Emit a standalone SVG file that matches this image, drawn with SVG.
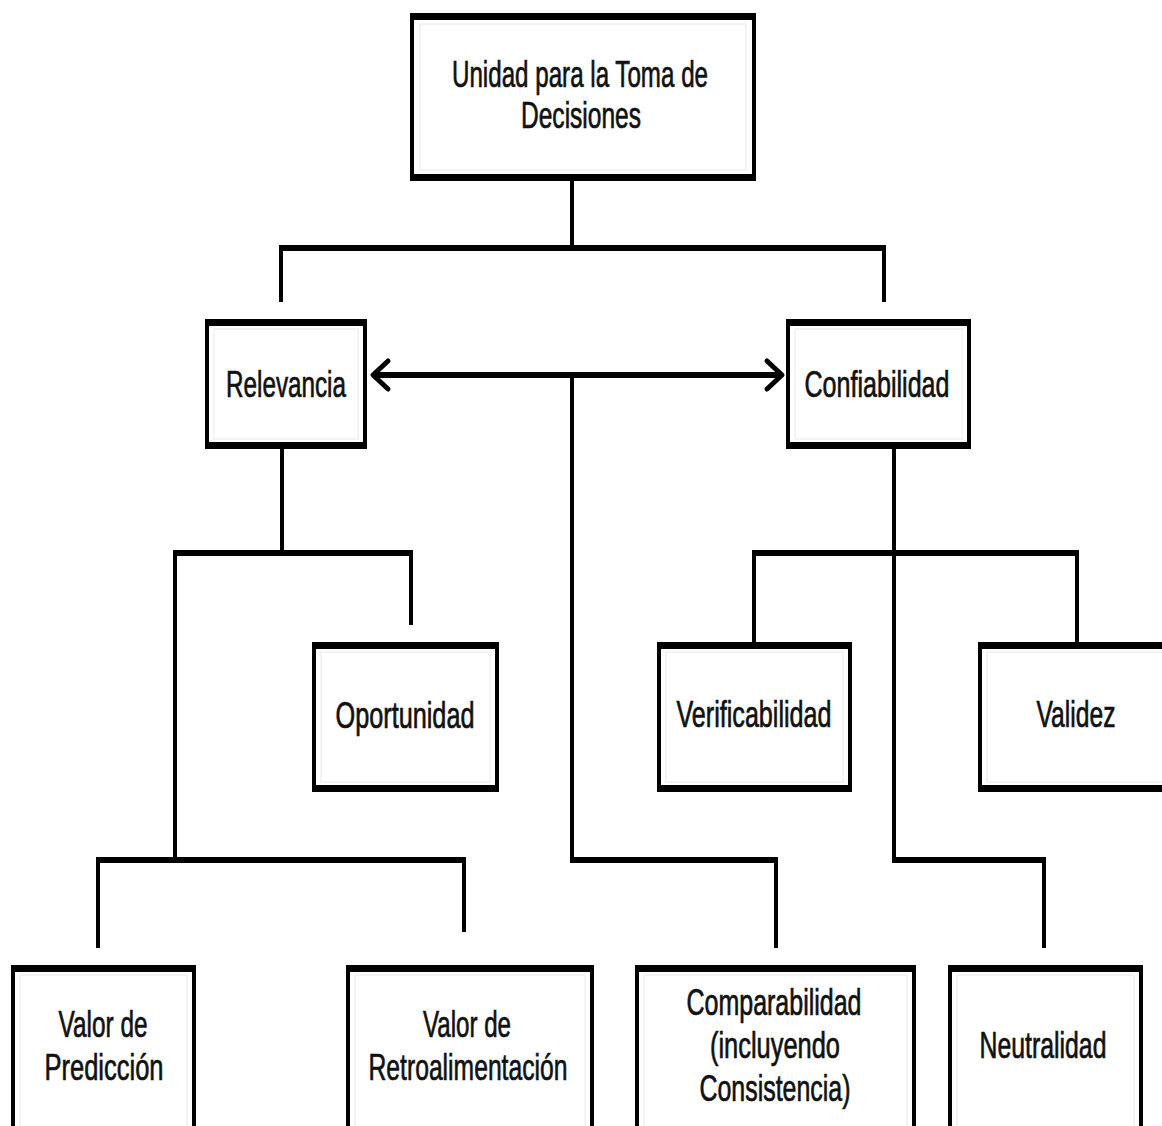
<svg xmlns="http://www.w3.org/2000/svg" width="1162" height="1126" viewBox="0 0 1162 1126">
<style>
.box{fill:#ffffff;stroke:#000;stroke-width:4}
.inner{fill:none;stroke:#f0f0f0;stroke-width:1.5}
.bar{fill:#000}
.h{stroke:#000;stroke-width:6;fill:none}
.v{stroke:#000;stroke-width:4;fill:none}
.t{font-family:"Liberation Sans",Arial,sans-serif;font-size:36px;fill:#111;stroke:#111;stroke-width:0.7;text-anchor:middle}
</style>
<defs>
<marker id="chev" markerUnits="userSpaceOnUse" markerWidth="30" markerHeight="40" viewBox="-22 -20 30 40" refX="0" refY="0" orient="auto-start-reverse">
<path d="M-15,-14 L0,0 L-15,14" fill="none" stroke="#000" stroke-width="5" stroke-linecap="round" stroke-linejoin="round"/>
</marker>
</defs>
<rect width="1162" height="1126" fill="#fff"/>
<g id="connectors">
<line class="v" x1="572" y1="181" x2="572" y2="248"/>
<line class="h" x1="279" y1="248" x2="886" y2="248"/>
<line class="v" x1="281" y1="248" x2="281" y2="302"/>
<line class="v" x1="884" y1="248" x2="884" y2="302"/>
<line class="h" x1="373" y1="375" x2="782" y2="375" marker-start="url(#chev)" marker-end="url(#chev)"/>
<line class="v" x1="572" y1="375" x2="572" y2="860"/>
<line class="h" x1="570" y1="860" x2="778" y2="860"/>
<line class="v" x1="776" y1="860" x2="776" y2="948"/>
<line class="v" x1="282" y1="449" x2="282" y2="553"/>
<line class="h" x1="173" y1="553" x2="413" y2="553"/>
<line class="v" x1="411" y1="553" x2="411" y2="625"/>
<line class="v" x1="175" y1="553" x2="175" y2="860"/>
<line class="h" x1="96" y1="860" x2="466" y2="860"/>
<line class="v" x1="98" y1="860" x2="98" y2="948"/>
<line class="v" x1="464" y1="860" x2="464" y2="932"/>
<line class="v" x1="894" y1="449" x2="894" y2="860"/>
<line class="h" x1="892" y1="860" x2="1046" y2="860"/>
<line class="v" x1="1044" y1="860" x2="1044" y2="948"/>
<line class="h" x1="752" y1="553" x2="1079" y2="553"/>
<line class="v" x1="754" y1="553" x2="754" y2="642"/>
<line class="v" x1="1077" y1="553" x2="1077" y2="642"/>
</g>
<g id="n-top">
<rect class="box" x="412" y="15" width="342" height="164"/>
<rect class="inner" x="420" y="24" width="326" height="146"/>
<rect class="bar" x="410" y="13" width="346" height="7"/>
<rect class="bar" x="410" y="174" width="346" height="7"/>
<text class="t" x="580" y="87" textLength="256" lengthAdjust="spacingAndGlyphs">Unidad para la Toma de</text>
<text class="t" x="581" y="128" textLength="120" lengthAdjust="spacingAndGlyphs">Decisiones</text>
</g>
<g id="n-relevancia">
<rect class="box" x="207" y="321" width="158" height="126"/>
<rect class="inner" x="214" y="329" width="144" height="110"/>
<rect class="bar" x="205" y="319" width="162" height="7"/>
<rect class="bar" x="205" y="442" width="162" height="7"/>
<text class="t" x="286" y="397" textLength="120" lengthAdjust="spacingAndGlyphs">Relevancia</text>
</g>
<g id="n-confiabilidad">
<rect class="box" x="788" y="321" width="181" height="126"/>
<rect class="inner" x="795" y="329" width="167" height="110"/>
<rect class="bar" x="786" y="319" width="185" height="7"/>
<rect class="bar" x="786" y="442" width="185" height="7"/>
<text class="t" x="877" y="397" textLength="145" lengthAdjust="spacingAndGlyphs">Confiabilidad</text>
</g>
<g id="n-oportunidad">
<rect class="box" x="314" y="644" width="183" height="146"/>
<rect class="inner" x="321" y="652" width="169" height="130"/>
<rect class="bar" x="312" y="642" width="187" height="7"/>
<rect class="bar" x="312" y="785" width="187" height="7"/>
<text class="t" x="405" y="728" textLength="139" lengthAdjust="spacingAndGlyphs">Oportunidad</text>
</g>
<g id="n-verificabilidad">
<rect class="box" x="659" y="644" width="191" height="146"/>
<rect class="inner" x="666" y="652" width="177" height="130"/>
<rect class="bar" x="657" y="642" width="195" height="7"/>
<rect class="bar" x="657" y="785" width="195" height="7"/>
<text class="t" x="754" y="727" textLength="155" lengthAdjust="spacingAndGlyphs">Verificabilidad</text>
</g>
<g id="n-validez">
<rect class="box" x="980" y="644" width="200" height="146"/>
<rect class="inner" x="987" y="652" width="186" height="130"/>
<rect class="bar" x="978" y="642" width="204" height="7"/>
<rect class="bar" x="978" y="785" width="204" height="7"/>
<text class="t" x="1076" y="727" textLength="79" lengthAdjust="spacingAndGlyphs">Validez</text>
</g>
<g id="n-prediccion">
<rect class="box" x="13" y="967" width="181" height="170"/>
<rect class="inner" x="20" y="975" width="167" height="160"/>
<rect class="bar" x="11" y="965" width="185" height="7"/>
<text class="t" x="103" y="1037" textLength="89" lengthAdjust="spacingAndGlyphs">Valor de</text>
<text class="t" x="104" y="1080" textLength="119" lengthAdjust="spacingAndGlyphs">Predicción</text>
</g>
<g id="n-retroalimentacion">
<rect class="box" x="348" y="967" width="244" height="170"/>
<rect class="inner" x="355" y="975" width="230" height="160"/>
<rect class="bar" x="346" y="965" width="248" height="7"/>
<text class="t" x="467" y="1037" textLength="88" lengthAdjust="spacingAndGlyphs">Valor de</text>
<text class="t" x="468" y="1080" textLength="199" lengthAdjust="spacingAndGlyphs">Retroalimentación</text>
</g>
<g id="n-comparabilidad">
<rect class="box" x="637" y="967" width="277" height="170"/>
<rect class="inner" x="644" y="975" width="263" height="160"/>
<rect class="bar" x="635" y="965" width="281" height="7"/>
<text class="t" x="774" y="1015" textLength="175" lengthAdjust="spacingAndGlyphs">Comparabilidad</text>
<text class="t" x="775" y="1058" textLength="130" lengthAdjust="spacingAndGlyphs">(incluyendo</text>
<text class="t" x="775" y="1101" textLength="151" lengthAdjust="spacingAndGlyphs">Consistencia)</text>
</g>
<g id="n-neutralidad">
<rect class="box" x="950" y="967" width="191" height="170"/>
<rect class="inner" x="957" y="975" width="177" height="160"/>
<rect class="bar" x="948" y="965" width="195" height="7"/>
<text class="t" x="1043" y="1058" textLength="127" lengthAdjust="spacingAndGlyphs">Neutralidad</text>
</g>
</svg>
